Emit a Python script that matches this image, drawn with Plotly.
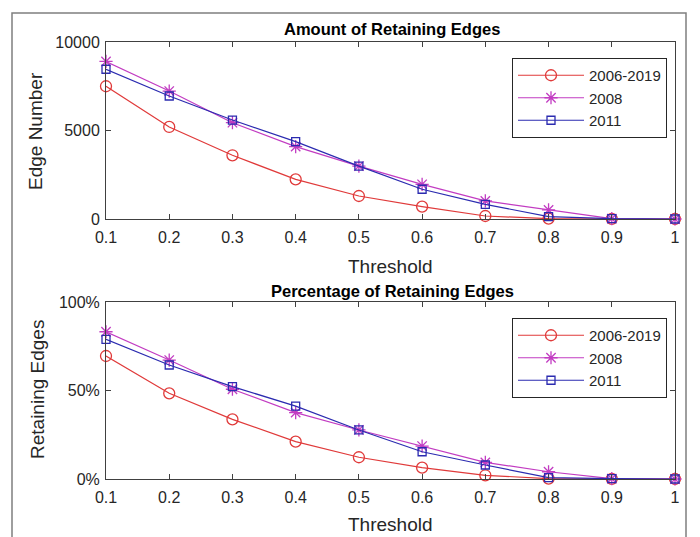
import plotly.graph_objects as go

thresholds = [0.1, 0.2, 0.3, 0.4, 0.5, 0.6, 0.7, 0.8, 0.9, 1.0]
tick_labels = ["0.1", "0.2", "0.3", "0.4", "0.5", "0.6", "0.7", "0.8", "0.9", "1"]
series_names = ["2006-2019", "2008", "2011"]

edges_2006_2019 = [7500, 5200, 3600, 2240, 1300, 700, 170, 20, 10, 0]
edges_2008 = [8900, 7230, 5440, 4090, 2990, 1960, 1020, 510, 20, 0]
edges_2011 = [8460, 6950, 5590, 4370, 2990, 1680, 830, 130, 20, 0]

pct_2006_2019 = [0.695, 0.484, 0.337, 0.211, 0.123, 0.064, 0.021, 0.002, 0.001, 0]
pct_2008 = [0.832, 0.672, 0.507, 0.375, 0.277, 0.186, 0.094, 0.041, 0.002, 0]
pct_2011 = [0.789, 0.644, 0.522, 0.412, 0.277, 0.154, 0.079, 0.008, 0.002, 0]

colors = ["#e03a3a", "#c23cc2", "#2b2bb0"]
symbols = ["circle-open", "asterisk-open", "square-open"]
msizes = [11, 11, 8]

W, H = 700, 537
OFF = 8  # page body margin
FONT = "Liberation Sans, Arial, sans-serif"
TXT = "#262626"

def px_x(x):
    return (x - OFF) / W

def px_y(y):
    return 1 - (y - OFF) / H

fig = go.Figure()

top_data = [edges_2006_2019, edges_2008, edges_2011]
bot_data = [pct_2006_2019, pct_2008, pct_2011]

for i, name in enumerate(series_names):
    fig.add_trace(go.Scatter(
        x=thresholds, y=top_data[i], name=name, mode="lines+markers",
        line=dict(color=colors[i], width=1.2),
        marker=dict(symbol=symbols[i], size=msizes[i], color=colors[i], line=dict(width=1.3, color=colors[i])),
        xaxis="x", yaxis="y", legend="legend", cliponaxis=False,
    ))
for i, name in enumerate(series_names):
    fig.add_trace(go.Scatter(
        x=thresholds, y=bot_data[i], name=name, mode="lines+markers",
        line=dict(color=colors[i], width=1.2),
        marker=dict(symbol=symbols[i], size=msizes[i], color=colors[i], line=dict(width=1.3, color=colors[i])),
        xaxis="x2", yaxis="y2", legend="legend2", cliponaxis=False,
    ))

axis_common = dict(
    showline=True, linecolor="#404040", linewidth=1, mirror="ticks",
    ticks="inside", ticklen=5, tickcolor="#404040", showgrid=False, zeroline=False,
    tickfont=dict(family=FONT, size=16, color=TXT), automargin=False,
)

xdom = [px_x(106), px_x(675)]
fig.update_layout(
    width=W, height=H,
    margin=dict(l=0, r=0, t=0, b=0, autoexpand=False),
    paper_bgcolor="white", plot_bgcolor="white",
    showlegend=True,
    xaxis=dict(domain=xdom, range=[0.1, 1], tickvals=thresholds, ticktext=tick_labels,
               anchor="y", ticklabelstandoff=4, **axis_common),
    yaxis=dict(domain=[px_y(219), px_y(42)], range=[0, 10000], tickvals=[0, 5000, 10000],
               ticktext=["0", "5000", "10000"], anchor="x", ticklabelstandoff=2, **axis_common),
    xaxis2=dict(domain=xdom, range=[0.1, 1], tickvals=thresholds, ticktext=tick_labels,
                anchor="y2", ticklabelstandoff=4, **axis_common),
    yaxis2=dict(domain=[px_y(479), px_y(302)], range=[0, 1], tickvals=[0, 0.5, 1],
                ticktext=["0%", "50%", "100%"], anchor="x2", ticklabelstandoff=2, **axis_common),
    legend=dict(x=px_x(667), xanchor="right", y=px_y(58), yanchor="top",
                bordercolor="#262626", borderwidth=1, bgcolor="white",
                font=dict(family=FONT, size=15, color=TXT), itemwidth=66,
                tracegroupgap=0),
    legend2=dict(x=px_x(667), xanchor="right", y=px_y(318), yanchor="top",
                 bordercolor="#262626", borderwidth=1, bgcolor="white",
                 font=dict(family=FONT, size=15, color=TXT), itemwidth=66,
                 tracegroupgap=0),
)

annotations = [
    dict(text="<b>Amount of Retaining Edges</b>", x=px_x(392), y=px_y(29), size=16.5),
    dict(text="<b>Percentage of Retaining Edges</b>", x=px_x(392), y=px_y(291), size=16.5),
    dict(text="Threshold", x=px_x(390), y=px_y(266), size=19),
    dict(text="Threshold", x=px_x(390), y=px_y(524), size=19),
    dict(text="Edge Number", x=px_x(35), y=px_y(131), size=19, angle=-90),
    dict(text="Retaining Edges", x=px_x(37), y=px_y(390), size=19, angle=-90),
]
for a in annotations:
    fig.add_annotation(
        text=a["text"], x=a["x"], y=a["y"], xref="paper", yref="paper",
        xanchor="center", yanchor="middle", showarrow=False,
        textangle=a.get("angle", 0),
        font=dict(family=FONT, size=a["size"], color=TXT if "<b>" not in a["text"] else "black"),
    )

fig.add_shape(type="rect", xref="paper", yref="paper",
              x0=px_x(12), x1=px_x(686), y0=-0.05, y1=px_y(13),
              line=dict(color="#7f7f7f", width=1.5), fillcolor="rgba(0,0,0,0)", layer="below")

fig.write_html("out.html")
